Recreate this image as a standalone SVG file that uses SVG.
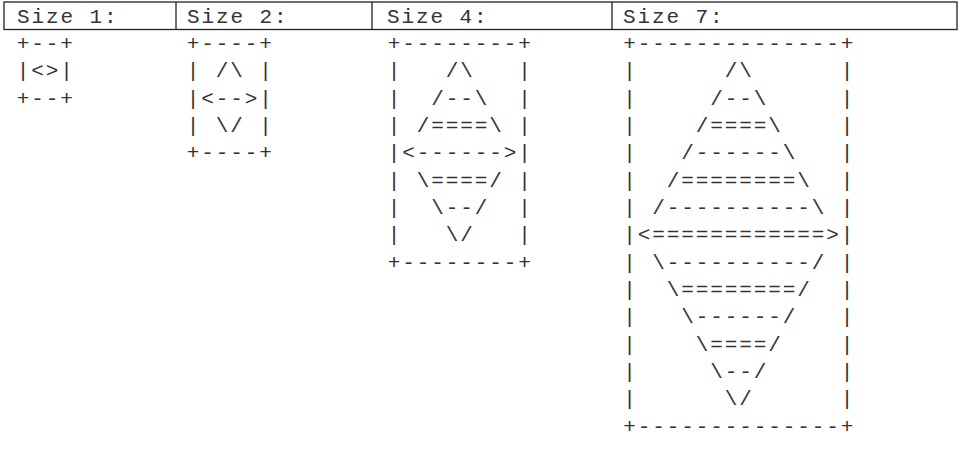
<svg xmlns="http://www.w3.org/2000/svg" width="972" height="473" viewBox="0 0 972 473">
<style>
.t{font-family:"Liberation Mono","Courier New",monospace;font-size:21px;letter-spacing:1.9px;fill:#333;white-space:pre}
.b{fill:none;stroke:#222;stroke-width:1.3}
</style>
<rect width="972" height="473" fill="#fff"/>
<g id="header">
<rect class="b" x="4" y="2" width="953" height="27.5"/>
<line class="b" x1="176" y1="2" x2="176" y2="29.5"/>
<line class="b" x1="372" y1="2" x2="372" y2="29.5"/>
<line class="b" x1="612" y1="2" x2="612" y2="29.5"/>
<text class="t" x="17" y="22.5">Size 1:</text>
<text class="t" x="187" y="22.5">Size 2:</text>
<text class="t" x="387" y="22.5">Size 4:</text>
<text class="t" x="623" y="22.5">Size 7:</text>
</g>
<g id="size1">
<text class="t" xml:space="preserve"><tspan x="16.7" y="49.8">+--+</tspan><tspan x="16.7" y="77.16">|&lt;&gt;|</tspan><tspan x="16.7" y="104.52">+--+</tspan></text>
</g>
<g id="size2">
<text class="t" xml:space="preserve"><tspan x="186.7" y="49.8">+----+</tspan><tspan x="186.7" y="77.16">| /\ |</tspan><tspan x="186.7" y="104.52">|&lt;--&gt;|</tspan><tspan x="186.7" y="131.88">| \/ |</tspan><tspan x="186.7" y="159.24">+----+</tspan></text>
</g>
<g id="size4">
<text class="t" xml:space="preserve"><tspan x="387.7" y="49.8">+--------+</tspan><tspan x="387.7" y="77.16">|   /\   |</tspan><tspan x="387.7" y="104.52">|  /--\  |</tspan><tspan x="387.7" y="131.88">| /====\ |</tspan><tspan x="387.7" y="159.24">|&lt;------&gt;|</tspan><tspan x="387.7" y="186.6">| \====/ |</tspan><tspan x="387.7" y="213.96">|  \--/  |</tspan><tspan x="387.7" y="241.32">|   \/   |</tspan><tspan x="387.7" y="268.68">+--------+</tspan></text>
</g>
<g id="size7">
<text class="t" xml:space="preserve"><tspan x="623.2" y="49.8">+--------------+</tspan><tspan x="623.2" y="77.16">|      /\      |</tspan><tspan x="623.2" y="104.52">|     /--\     |</tspan><tspan x="623.2" y="131.88">|    /====\    |</tspan><tspan x="623.2" y="159.24">|   /------\   |</tspan><tspan x="623.2" y="186.6">|  /========\  |</tspan><tspan x="623.2" y="213.96">| /----------\ |</tspan><tspan x="623.2" y="241.32">|&lt;============&gt;|</tspan><tspan x="623.2" y="268.68">| \----------/ |</tspan><tspan x="623.2" y="296.04">|  \========/  |</tspan><tspan x="623.2" y="323.4">|   \------/   |</tspan><tspan x="623.2" y="350.76">|    \====/    |</tspan><tspan x="623.2" y="378.12">|     \--/     |</tspan><tspan x="623.2" y="405.48">|      \/      |</tspan><tspan x="623.2" y="432.84">+--------------+</tspan></text>
</g>
</svg>
